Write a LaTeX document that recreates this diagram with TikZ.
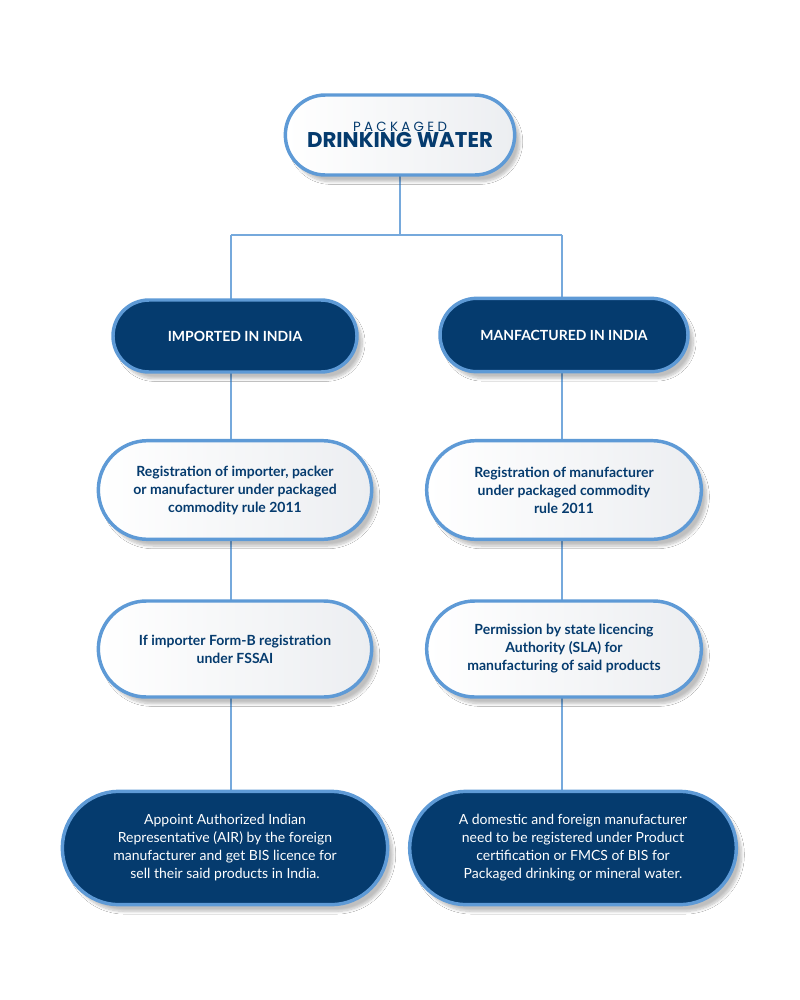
\documentclass[tikz,border=0pt]{standalone}
\usepackage{fontspec}
\setmainfont{Lato}
\newfontfamily\pop{Poppins}
\usetikzlibrary{shapes.misc,shadows.blur}
\definecolor{navy}{HTML}{053B6E}
\definecolor{lblue}{HTML}{5E9AD6}
\definecolor{lgrey}{HTML}{ECEEF1}
\tikzset{
  base/.style={rounded rectangle, draw=lblue, line width=2.6pt, align=center, inner sep=0pt,
    blur shadow={shadow blur steps=8, shadow xshift=4pt, shadow yshift=-5pt, shadow opacity=25}},
  whitebox/.style={base, left color=white, right color=lgrey, text=navy, font=\bfseries\fontsize{10.5}{13.5}\selectfont},
  darkbox/.style={base, fill=navy, text=white, font=\bfseries\fontsize{10.5}{13.5}\selectfont},
  conn/.style={draw=lblue!85, line width=1.2pt}
}
\begin{document}
\begin{tikzpicture}[x=0.75pt,y=-0.75pt]
\useasboundingbox[fill=white] (0,0) rectangle (800,1000);
\coordinate (j) at (400,235);
\coordinate (jl) at (231,235);
\coordinate (jr) at (562,235);
\draw[conn] (400,176) -- (j);
\draw[conn] (jl) -- (jr);
\draw[conn] (jl) -- (231,300);
\draw[conn] (jr) -- (562,298);
\draw[conn] (231,373) -- (231,441);
\draw[conn] (231,540) -- (231,601);
\draw[conn] (231,697) -- (231,792);
\draw[conn] (562,372) -- (562,441);
\draw[conn] (562,540) -- (562,601);
\draw[conn] (562,697) -- (562,792);
\node[whitebox, minimum width=172pt, minimum height=60pt] (top) at (400,135)
  {{\pop\fontsize{10}{12}\selectfont\mdseries\addfontfeature{LetterSpace=25}PACKAGED}\\[-1pt]{\pop\fontsize{16}{18}\selectfont\bfseries DRINKING WATER}};
\node[darkbox, minimum width=183pt, minimum height=54pt] (imp) at (235,336) {IMPORTED IN INDIA};
\node[darkbox, minimum width=186pt, minimum height=55pt] (man) at (564,335) {MANFACTURED IN INDIA};
\node[whitebox, minimum width=205pt, minimum height=74pt] (r1) at (235,490)
  {Registration of importer, packer\\or manufacturer under packaged\\commodity rule 2011};
\node[whitebox, minimum width=206pt, minimum height=74pt] (r2) at (564,490)
  {Registration of manufacturer\\under packaged commodity\\rule 2011};
\node[whitebox, minimum width=205pt, minimum height=72pt] (f1) at (235,649)
  {If importer Form-B registration\\under FSSAI};
\node[whitebox, minimum width=206pt, minimum height=72pt] (f2) at (564,649)
  {Permission by state licencing\\Authority (SLA) for\\manufacturing of said products};
\node[darkbox, minimum width=244pt, minimum height=85pt, font=\fontsize{10.5}{13.5}\selectfont] (b1) at (225,848)
  {Appoint Authorized Indian\\Representative (AIR) by the foreign\\manufacturer and get BIS licence for\\sell their said products in India.};
\node[darkbox, minimum width=245pt, minimum height=85pt, font=\fontsize{10.5}{13.5}\selectfont] (b2) at (573,848)
  {A domestic and foreign manufacturer\\need to be registered under Product\\certification or FMCS of BIS for\\Packaged drinking or mineral water.};
\end{tikzpicture}
\end{document}
